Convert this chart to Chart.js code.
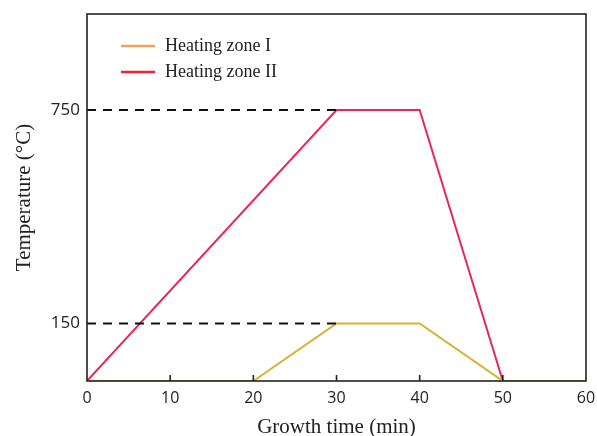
<!DOCTYPE html>
<html>
<head>
<meta charset="utf-8">
<script src="https://cdn.jsdelivr.net/npm/chart.js@4"></script>
<style>
  html, body { margin: 0; padding: 0; background: #fff; }
  #wrap { width: 597px; height: 436px; }
</style>
</head>
<body>
<div id="wrap"><canvas id="chart" width="597" height="436"></canvas></div>
<script>
// dados do gráfico (tempo em min, temperatura em °C)
var baseTemp = -12;
var zone1Time = [0, 20, 30, 40, 50, 60];
var zone1Temp = [baseTemp, baseTemp, 150, 150, baseTemp, baseTemp];
var zone2Time = [0, 30, 40, 50, 60];
var zone2Temp = [baseTemp, 750, 750, baseTemp, baseTemp];
var yTicks = [150, 750];
var xTicks = [0, 10, 20, 30, 40, 50, 60];
var legendLabels = ['Heating zone I', 'Heating zone II'];

function pontos(xs, ys){
  return xs.map(function(x, i){ return {x: x, y: ys[i]}; });
}

// moldura + ticks para dentro + legenda
var extras = {
  id: 'extras',
  afterDraw: function(chart){
    var ctx = chart.ctx;
    var a = chart.chartArea;
    var xs = chart.scales.x;
    ctx.save();
    ctx.strokeStyle = '#222';
    ctx.lineWidth = 1.6;
    ctx.strokeRect(a.left, a.top, a.right - a.left, a.bottom - a.top);
    xTicks.slice(1, -1).forEach(function(t){
      var px = xs.getPixelForValue(t);
      ctx.beginPath();
      ctx.moveTo(px, a.bottom);
      ctx.lineTo(px, a.bottom - 6);
      ctx.stroke();
    });
    // legenda
    var cores = ['#eba45a', '#ee2236'];
    ctx.font = '18px "Liberation Serif", "Times New Roman", serif';
    ctx.textBaseline = 'middle';
    legendLabels.forEach(function(lbl, i){
      var y = 46 + i * 26;
      ctx.strokeStyle = cores[i];
      ctx.lineWidth = 2.5;
      ctx.beginPath();
      ctx.moveTo(121, y);
      ctx.lineTo(155, y);
      ctx.stroke();
      ctx.fillStyle = '#222';
      ctx.fillText(lbl, 165, y);
    });
    ctx.restore();
  }
};

var ctx = document.getElementById('chart').getContext('2d');
var chart = new Chart(ctx, {
  type: 'line',
  data: {
    datasets: [
      {label: 'dash750', data: pontos([0, 30], [750, 750]), borderColor: '#111', borderWidth: 2, borderDash: [9, 7], pointRadius: 0},
      {label: 'dash150', data: pontos([0, 30], [150, 150]), borderColor: '#111', borderWidth: 2, borderDash: [9, 7], pointRadius: 0},
      {label: legendLabels[0], data: pontos(zone1Time, zone1Temp), borderColor: '#d8b22c', borderWidth: 2, pointRadius: 0},
      {label: legendLabels[1], data: pontos(zone2Time, zone2Temp), borderColor: '#e8265a', borderWidth: 2, pointRadius: 0}
    ]
  },
  options: {
    responsive: false,
    animation: false,
    layout: {padding: {top: 14, right: 11, left: 0, bottom: 0}},
    plugins: {legend: {display: false}, tooltip: {enabled: false}},
    scales: {
      x: {
        type: 'linear', min: 0, max: 60,
        afterBuildTicks: function(s){ s.ticks = xTicks.map(function(v){ return {value: v}; }); },
        afterFit: function(s){ s.height = 55; s.paddingLeft = 0; s.paddingRight = 0; },
        grid: {display: false, drawTicks: false},
        border: {display: false},
        ticks: {color: '#222', padding: 8, font: {family: '"Open Sans", sans-serif', size: 16}},
        title: {display: true, text: 'Growth time (min)', color: '#222', padding: {top: 0, bottom: -4},
                font: {family: '"Liberation Serif", serif', size: 21}}
      },
      y: {
        type: 'linear', min: -12, max: 1020,
        afterBuildTicks: function(s){ s.ticks = yTicks.map(function(v){ return {value: v}; }); },
        afterFit: function(s){ s.width = 87; s.paddingTop = 0; s.paddingBottom = 0; },
        grid: {display: false, drawTicks: false},
        border: {display: false},
        ticks: {color: '#222', padding: 7, font: {family: '"Open Sans", sans-serif', size: 17}},
        title: {display: true, text: 'Temperature (°C)', color: '#222', padding: {top: 12, bottom: 0},
                font: {family: '"Liberation Serif", serif', size: 21}}
      }
    }
  },
  plugins: [extras]
});
</script>
</body>
</html>
